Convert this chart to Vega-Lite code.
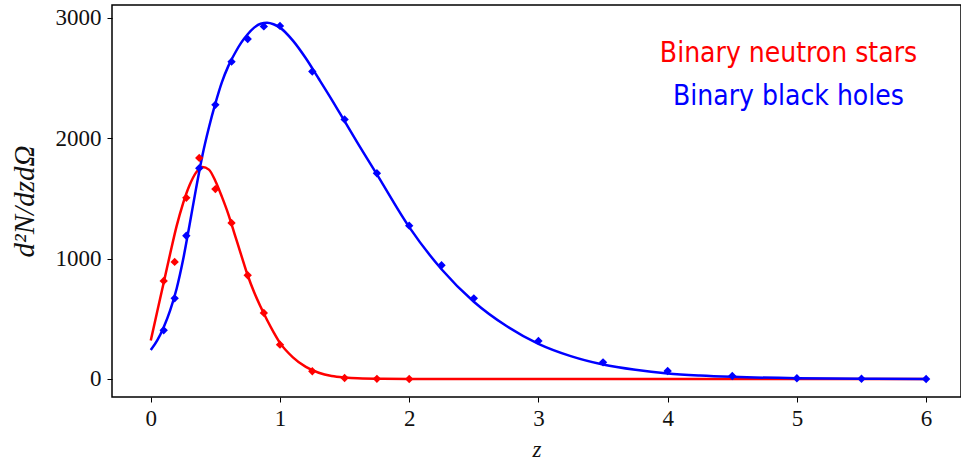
{
  "$schema": "https://vega.github.io/schema/vega-lite/v6.json",
  "width": 849,
  "height": 392,
  "autosize": "none",
  "padding": {"left": 112, "top": 5, "right": 0, "bottom": 67},
  "background": "white",
  "config": {
    "view": {"stroke": "black", "strokeWidth": 1.5},
    "axis": {
      "domain": false,
      "grid": false,
      "tickColor": "black",
      "tickSize": 5,
      "tickWidth": 1,
      "labelFont": "Liberation Serif",
      "labelFontSize": 23,
      "labelColor": "#111",
      "titleFont": "Liberation Serif",
      "titleFontSize": 23,
      "titleFontStyle": "italic",
      "titleFontWeight": "normal",
      "titleColor": "#111"
    }
  },
  "datasets": {
    "labels": [
      {"series": "Binary neutron stars"},
      {"series": "Binary black holes"}
    ],
    "points": [
      {"series": "Binary neutron stars", "z": 0.1, "n": 815},
      {"series": "Binary neutron stars", "z": 0.185, "n": 973},
      {"series": "Binary neutron stars", "z": 0.275, "n": 1505},
      {"series": "Binary neutron stars", "z": 0.375, "n": 1837},
      {"series": "Binary neutron stars", "z": 0.5, "n": 1578},
      {"series": "Binary neutron stars", "z": 0.625, "n": 1297},
      {"series": "Binary neutron stars", "z": 0.75, "n": 862},
      {"series": "Binary neutron stars", "z": 0.875, "n": 549},
      {"series": "Binary neutron stars", "z": 1.0, "n": 285},
      {"series": "Binary neutron stars", "z": 1.25, "n": 64},
      {"series": "Binary neutron stars", "z": 1.5, "n": 8},
      {"series": "Binary neutron stars", "z": 1.75, "n": 1},
      {"series": "Binary neutron stars", "z": 2.0, "n": 0},
      {"series": "Binary black holes", "z": 0.1, "n": 405},
      {"series": "Binary black holes", "z": 0.185, "n": 670},
      {"series": "Binary black holes", "z": 0.275, "n": 1190},
      {"series": "Binary black holes", "z": 0.375, "n": 1752},
      {"series": "Binary black holes", "z": 0.5, "n": 2278},
      {"series": "Binary black holes", "z": 0.625, "n": 2637},
      {"series": "Binary black holes", "z": 0.75, "n": 2825},
      {"series": "Binary black holes", "z": 0.875, "n": 2930},
      {"series": "Binary black holes", "z": 1.0, "n": 2934},
      {"series": "Binary black holes", "z": 1.25, "n": 2555},
      {"series": "Binary black holes", "z": 1.5, "n": 2157},
      {"series": "Binary black holes", "z": 1.75, "n": 1710},
      {"series": "Binary black holes", "z": 2.0, "n": 1274},
      {"series": "Binary black holes", "z": 2.25, "n": 945},
      {"series": "Binary black holes", "z": 2.5, "n": 670},
      {"series": "Binary black holes", "z": 3.0, "n": 316},
      {"series": "Binary black holes", "z": 3.5, "n": 138},
      {"series": "Binary black holes", "z": 4.0, "n": 66},
      {"series": "Binary black holes", "z": 4.5, "n": 25},
      {"series": "Binary black holes", "z": 5.0, "n": 6},
      {"series": "Binary black holes", "z": 5.5, "n": 2},
      {"series": "Binary black holes", "z": 6.0, "n": 0}
    ],
    "bns_curve": [
      {"z": 0.0, "n": 320}, {"z": 0.05, "n": 560}, {"z": 0.1, "n": 800},
      {"z": 0.15, "n": 1040}, {"z": 0.2, "n": 1270}, {"z": 0.25, "n": 1460},
      {"z": 0.3, "n": 1610}, {"z": 0.35, "n": 1715}, {"z": 0.4, "n": 1762},
      {"z": 0.45, "n": 1740}, {"z": 0.5, "n": 1645}, {"z": 0.55, "n": 1515},
      {"z": 0.6, "n": 1370}, {"z": 0.65, "n": 1200}, {"z": 0.7, "n": 1030},
      {"z": 0.75, "n": 862}, {"z": 0.8, "n": 720}, {"z": 0.85, "n": 600},
      {"z": 0.9, "n": 490}, {"z": 0.95, "n": 390}, {"z": 1.0, "n": 300},
      {"z": 1.1, "n": 180}, {"z": 1.2, "n": 100}, {"z": 1.3, "n": 52},
      {"z": 1.4, "n": 25}, {"z": 1.5, "n": 12}, {"z": 1.6, "n": 5},
      {"z": 1.8, "n": 1}, {"z": 2.0, "n": 0}, {"z": 3.0, "n": 0},
      {"z": 4.0, "n": 0}, {"z": 5.0, "n": 0}, {"z": 6.0, "n": 0}
    ],
    "bbh_curve": [
      {"z": 0.0, "n": 240}, {"z": 0.05, "n": 320}, {"z": 0.1, "n": 430},
      {"z": 0.15, "n": 570}, {"z": 0.2, "n": 750}, {"z": 0.25, "n": 990},
      {"z": 0.3, "n": 1280}, {"z": 0.35, "n": 1580}, {"z": 0.4, "n": 1860},
      {"z": 0.45, "n": 2090}, {"z": 0.5, "n": 2290}, {"z": 0.55, "n": 2465},
      {"z": 0.6, "n": 2600}, {"z": 0.65, "n": 2705}, {"z": 0.7, "n": 2795},
      {"z": 0.75, "n": 2865}, {"z": 0.8, "n": 2920}, {"z": 0.85, "n": 2952},
      {"z": 0.9, "n": 2960}, {"z": 0.95, "n": 2948}, {"z": 1.0, "n": 2920},
      {"z": 1.1, "n": 2812}, {"z": 1.2, "n": 2665}, {"z": 1.3, "n": 2495},
      {"z": 1.4, "n": 2322}, {"z": 1.5, "n": 2142}, {"z": 1.6, "n": 1962},
      {"z": 1.75, "n": 1700}, {"z": 2.0, "n": 1262}, {"z": 2.25, "n": 912},
      {"z": 2.5, "n": 642}, {"z": 2.75, "n": 442}, {"z": 3.0, "n": 292},
      {"z": 3.25, "n": 190}, {"z": 3.5, "n": 120}, {"z": 3.75, "n": 76},
      {"z": 4.0, "n": 46}, {"z": 4.25, "n": 29}, {"z": 4.5, "n": 18},
      {"z": 5.0, "n": 6}, {"z": 5.5, "n": 2}, {"z": 6.0, "n": 0}
    ]
  },
  "layer": [
    {
      "data": {"name": "bns_curve"},
      "mark": {"type": "line", "strokeWidth": 2.5, "color": "#ff0000", "interpolate": "monotone", "clip": true},
      "encoding": {
        "x": {
          "field": "z", "type": "quantitative",
          "scale": {"domain": [-0.3, 6.27], "nice": false, "zero": false},
          "axis": {"values": [0, 1, 2, 3, 4, 5, 6], "format": "d", "labelPadding": 5, "title": "z", "titlePadding": 8}
        },
        "y": {
          "field": "n", "type": "quantitative",
          "scale": {"domain": [-150, 3108], "nice": false, "zero": false},
          "axis": {"values": [0, 1000, 2000, 3000], "format": "d", "labelPadding": 6, "title": "d²N/dzdΩ", "titlePadding": 16, "titleFontSize": 29}
        }
      }
    },
    {
      "data": {"name": "bbh_curve"},
      "mark": {"type": "line", "strokeWidth": 2.5, "color": "#0000ff", "interpolate": "monotone", "clip": true},
      "encoding": {
        "x": {"field": "z", "type": "quantitative"},
        "y": {"field": "n", "type": "quantitative"}
      }
    },
    {
      "data": {"name": "points"},
      "mark": {"type": "point", "shape": "diamond", "filled": true, "opacity": 1, "size": 70, "clip": true},
      "encoding": {
        "x": {"field": "z", "type": "quantitative"},
        "y": {"field": "n", "type": "quantitative"},
        "color": {
          "field": "series", "type": "nominal",
          "scale": {"domain": ["Binary neutron stars", "Binary black holes"], "range": ["#ff0000", "#0000ff"]},
          "legend": null
        }
      }
    },
    {
      "data": {"name": "labels"},
      "transform": [{"filter": "datum.series === 'Binary neutron stars'"}],
      "mark": {"type": "text", "font": "DejaVu Sans Condensed, sans-serif", "fontSize": 28, "align": "center", "baseline": "alphabetic"},
      "encoding": {
        "x": {"datum": 4.935},
        "y": {"datum": 2634},
        "text": {"field": "series", "type": "nominal"},
        "color": {"field": "series", "type": "nominal"}
      }
    },
    {
      "data": {"name": "labels"},
      "transform": [{"filter": "datum.series === 'Binary black holes'"}],
      "mark": {"type": "text", "font": "DejaVu Sans Condensed, sans-serif", "fontSize": 28, "align": "center", "baseline": "alphabetic"},
      "encoding": {
        "x": {"datum": 4.935},
        "y": {"datum": 2277},
        "text": {"field": "series", "type": "nominal"},
        "color": {"field": "series", "type": "nominal"}
      }
    }
  ]
}
